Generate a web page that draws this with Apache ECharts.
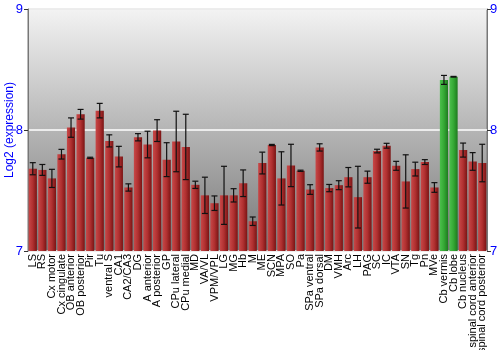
<!DOCTYPE html>
<html><head><meta charset="utf-8">
<script src="https://cdn.jsdelivr.net/npm/echarts@6/dist/echarts.min.js"></script>
<style>html,body{margin:0;padding:0;background:#fff}#c{width:500px;height:350px}</style>
</head><body><div id="c"></div>
<script>
const categories = ["LS","RS","Cx motor","Cx cingulate","OB anterior","OB posterior","Pir","Tu","ventral S","CA1","CA2/CA3","DG","A anterior","A posterior","GP","CPu lateral","CPu medial","MD","VA/VL","VPM/VPL","LG","MG","Hb","M","ME","SCN","MPA","SO","Pa","SPa ventral","SPa dorsal","DM","VMH","Arc","LH","PAG","SC","IC","VTA","SN","Tg","Pn","MVe","Cb vermis","Cb lobe","Cb nucleus","spinal cord anterior","spinal cord posterior"];
const values = [7.68,7.67,7.60,7.80,8.02,8.13,7.77,8.16,7.91,7.78,7.525,7.94,7.88,7.995,7.755,7.905,7.86,7.547,7.46,7.395,7.46,7.46,7.56,7.246,7.727,7.876,7.60,7.707,7.663,7.508,7.856,7.52,7.544,7.61,7.445,7.61,7.826,7.87,7.704,7.575,7.677,7.735,7.525,8.414,8.44,7.834,7.74,7.727];
const errors = [0.05,0.045,0.075,0.04,0.08,0.04,0.005,0.06,0.05,0.085,0.03,0.03,0.11,0.09,0.14,0.25,0.27,0.03,0.15,0.06,0.24,0.055,0.11,0.035,0.09,0.005,0.22,0.175,0.005,0.04,0.03,0.03,0.037,0.08,0.255,0.05,0.015,0.02,0.037,0.22,0.057,0.02,0.04,0.037,0.003,0.058,0.073,0.155];
const highlighted = ["Cb vermis","Cb lobe"];
const yTicks = [7,8,9];

const redGrad = new echarts.graphic.LinearGradient(0,0,1,0,[{offset:0,color:'#c84848'},{offset:0.5,color:'#b03030'},{offset:1,color:'#7a1414'}]);
const greenGrad = new echarts.graphic.LinearGradient(0,0,1,0,[{offset:0,color:'#4cc04c'},{offset:0.5,color:'#34a834'},{offset:1,color:'#1e7a1e'}]);
const bgGrad = new echarts.graphic.LinearGradient(0,0,0,1,[{offset:0,color:'#f3f3f3'},{offset:1,color:'#777777'}]);

const chart = echarts.init(document.getElementById('c'), null, {renderer:'canvas'});
const font = 'Liberation Sans, Arial, sans-serif';
chart.setOption({
  animation:false,
  grid:{left:28,right:13,top:9,bottom:99,containLabel:false,outerBoundsMode:'none',show:true,backgroundColor:bgGrad,borderColor:'#777',borderWidth:1},
  xAxis:{type:'category',data:categories,
    axisLine:{show:false},axisTick:{show:false},
    axisLabel:{interval:0,rotate:90,fontSize:11,color:'#000',fontFamily:font,margin:3,hideOverlap:false}},
  yAxis:[
    {type:'value',min:yTicks[0],max:yTicks[yTicks.length-1],interval:1,position:'left',
     name:'Log2 (expression)',nameLocation:'middle',nameGap:12,nameMoveOverlap:false,
     nameTextStyle:{color:'#0000ff',fontSize:12,fontFamily:font},
     axisLine:{show:true,lineStyle:{color:'#777'}},axisTick:{show:true,length:4,lineStyle:{color:'#333'}},
     axisLabel:{color:'#0000ff',fontSize:13,fontFamily:font,margin:5},
     splitLine:{show:true,lineStyle:{color:'#ffffff',width:1.5}}},
    {type:'value',min:yTicks[0],max:yTicks[yTicks.length-1],interval:1,position:'right',
     axisLine:{show:true,lineStyle:{color:'#777'}},axisTick:{show:true,length:4,lineStyle:{color:'#333'}},
     axisLabel:{color:'#0000ff',fontSize:13,fontFamily:font,margin:3},
     splitLine:{show:false}}
  ],
  series:[
    {type:'bar',data:values.map((v,i)=>({value:v,itemStyle:{color:highlighted.includes(categories[i])?greenGrad:redGrad}})),
     barCategoryGap:'14%'},
    {type:'custom',data:values.map((v,i)=>[i,v-errors[i],v+errors[i]]),z:10,
     renderItem:function(params,api){
       const lo=api.coord([api.value(0),api.value(1)]);
       const hi=api.coord([api.value(0),api.value(2)]);
       const w=3;
       const st={stroke:'#111',lineWidth:1.2};
       return {type:'group',children:[
         {type:'line',shape:{x1:lo[0],y1:lo[1],x2:hi[0],y2:hi[1]},style:st},
         {type:'line',shape:{x1:lo[0]-w,y1:lo[1],x2:lo[0]+w,y2:lo[1]},style:st},
         {type:'line',shape:{x1:hi[0]-w,y1:hi[1],x2:hi[0]+w,y2:hi[1]},style:st}
       ]};
     }}
  ]
});
</script></body></html>
